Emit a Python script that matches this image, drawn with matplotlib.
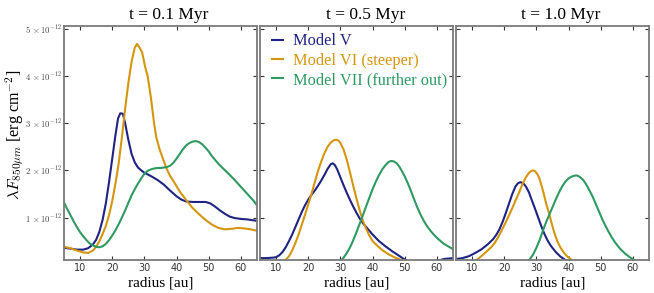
import matplotlib
matplotlib.use("Agg")
import matplotlib.pyplot as plt

plt.rcParams['mathtext.fontset'] = 'cm'

titles = ["t = 0.1 Myr", "t = 0.5 Myr", "t = 1.0 Myr"]
models = ["Model V", "Model VI (steeper)", "Model VII (further out)"]
colors = ["#1f2383", "#d4960f", "#2e9a62"]
yticks = [1, 2, 3, 4, 5]
ytick_labels = [r"$%d\,\times10^{-12}$" % v for v in yticks]
xticks = [10, 20, 30, 40, 50, 60]

# Panel 1 (t = 0.1 Myr), values in 1e-12 erg cm^-2
p1_v_r = [5, 7, 9, 11, 12.5, 14, 15, 16, 17, 18, 19, 20, 21, 21.8, 22.5, 23.3, 24, 25, 26, 27, 28, 29, 30, 32, 34, 36, 38, 40, 41.5, 43, 45, 47, 49, 50.5, 52, 53.5, 55, 56.5, 58, 60, 62, 65]
p1_v_f = [0.36, 0.34, 0.32, 0.32, 0.35, 0.43, 0.53, 0.7, 0.95, 1.3, 1.75, 2.25, 2.75, 3.1, 3.21, 3.2, 3.0, 2.65, 2.35, 2.17, 2.06, 2.0, 1.95, 1.88, 1.8, 1.7, 1.57, 1.45, 1.38, 1.34, 1.33, 1.33, 1.33, 1.3, 1.23, 1.15, 1.08, 1.02, 0.99, 0.97, 0.96, 0.93]
p1_vi_r = [5, 7, 9, 11, 12.5, 14, 15, 16, 17, 18, 19, 20, 21, 22, 23, 24, 25, 26, 27, 27.7, 28.5, 29.3, 30.2, 31, 32, 33, 33.7, 34.7, 36, 37, 38, 39.5, 41, 43, 45, 47, 49, 51, 53, 55, 57, 59, 61, 63, 65]
p1_vi_f = [0.38, 0.35, 0.3, 0.26, 0.25, 0.3, 0.38, 0.5, 0.65, 0.82, 1.05, 1.35, 1.72, 2.15, 2.7, 3.3, 3.85, 4.3, 4.6, 4.68, 4.6, 4.5, 4.2, 4.0, 3.55, 3.0, 2.7, 2.45, 2.2, 2.02, 1.88, 1.72, 1.55, 1.37, 1.2, 1.07, 0.95, 0.85, 0.78, 0.75, 0.76, 0.78, 0.77, 0.75, 0.72]
p1_vii_r = [5, 6, 7, 8, 9, 10, 11, 12, 13, 14, 15, 16, 17, 18, 19, 20, 21, 22, 23, 24, 25, 26, 27, 28, 29, 30, 31, 32, 33, 34, 35, 36, 37, 38, 39, 40, 41, 42, 43, 44, 45, 46, 47, 48, 49, 50, 51, 52, 53, 54, 56, 58, 60, 62, 64, 65]
p1_vii_f = [1.32, 1.18, 1.05, 0.92, 0.8, 0.69, 0.6, 0.52, 0.45, 0.41, 0.38, 0.37, 0.39, 0.44, 0.52, 0.62, 0.73, 0.86, 1.0, 1.15, 1.31, 1.47, 1.6, 1.72, 1.83, 1.93, 1.99, 2.02, 2.04, 2.05, 2.05, 2.06, 2.07, 2.1, 2.16, 2.25, 2.35, 2.45, 2.53, 2.58, 2.61, 2.62, 2.6, 2.55, 2.48, 2.4, 2.3, 2.22, 2.14, 2.07, 1.94, 1.8, 1.65, 1.5, 1.35, 1.26]

# Panel 2 (t = 0.5 Myr)
p2_v_r = [5, 7, 9, 10, 11, 12, 13, 14, 15, 16, 17, 18, 19, 20, 21, 22, 23, 24, 25, 26, 27, 27.6, 28.3, 29, 30, 31, 32, 33, 34, 35, 36, 37, 38, 40, 42, 44, 46, 48, 50, 52, 55, 58, 60, 62, 65]
p2_v_f = [0.14, 0.14, 0.15, 0.16, 0.2, 0.27, 0.37, 0.5, 0.64, 0.8, 0.96, 1.12, 1.26, 1.38, 1.48, 1.57, 1.67, 1.78, 1.9, 2.03, 2.13, 2.15, 2.11, 2.02, 1.85, 1.68, 1.52, 1.37, 1.23, 1.1, 0.98, 0.88, 0.8, 0.64, 0.5, 0.39, 0.29, 0.2, 0.11, 0.05, 0.02, 0.03, 0.07, 0.12, 0.14]
p2_vi_r = [5, 10, 12, 13, 14, 15, 16, 17, 18, 19, 20, 21, 22, 23, 24, 25, 26, 27, 28, 28.7, 29.4, 30, 31, 32, 33, 34, 35, 36, 37, 38, 39, 40, 41.5, 43, 45, 47, 49, 51, 55, 60, 65]
p2_vi_f = [0.0, 0.02, 0.06, 0.1, 0.18, 0.3, 0.46, 0.64, 0.85, 1.06, 1.28, 1.5, 1.74, 1.98, 2.18, 2.36, 2.5, 2.59, 2.64, 2.65, 2.63, 2.58, 2.44, 2.22, 1.95, 1.67, 1.4, 1.15, 0.93, 0.76, 0.62, 0.5, 0.4, 0.31, 0.22, 0.15, 0.1, 0.06, 0.04, 0.05, 0.05]
p2_vii_r = [5, 28, 29, 30, 31, 32, 33, 34, 35, 36, 37, 38, 39, 40, 41, 42, 43, 44, 45, 45.8, 46.6, 47.5, 48.3, 49, 50, 51, 52, 53, 54, 55, 56, 57, 58, 59, 60, 62, 64, 65]
p2_vii_f = [0.0, 0.02, 0.04, 0.08, 0.15, 0.25, 0.37, 0.52, 0.69, 0.87, 1.05, 1.24, 1.42, 1.6, 1.76, 1.9, 2.02, 2.11, 2.18, 2.2, 2.19, 2.15, 2.08, 2.0, 1.87, 1.72, 1.55, 1.37, 1.2, 1.05, 0.92, 0.81, 0.72, 0.64, 0.57, 0.45, 0.37, 0.33]

# Panel 3 (t = 1.0 Myr)
p3_v_r = [5, 7, 9, 11, 13, 15, 16.5, 17.5, 18.5, 19.5, 20.5, 21.5, 22.5, 23.5, 24.3, 25.1, 26, 26.8, 27.7, 28.5, 29.5, 30.5, 31.5, 32.5, 33.5, 34.5, 36, 37.5, 39, 41, 44, 50, 65]
p3_v_f = [0.12, 0.14, 0.18, 0.25, 0.33, 0.44, 0.54, 0.63, 0.75, 0.91, 1.1, 1.3, 1.5, 1.66, 1.73, 1.75, 1.72, 1.65, 1.53, 1.38, 1.2, 1.01, 0.82, 0.65, 0.51, 0.4, 0.27, 0.17, 0.1, 0.06, 0.03, 0.02, 0.02]
p3_vi_r = [5, 9, 11, 12, 13, 14, 15, 16.2, 17, 18, 19, 20.4, 21.5, 22.5, 23.5, 24.6, 25.6, 26.7, 27.7, 28.5, 29, 29.6, 30.2, 30.8, 31.5, 32.3, 33, 33.9, 34.8, 35.6, 36.5, 37.5, 38.5, 39.5, 41, 43, 46, 65]
p3_vi_f = [0.0, 0.03, 0.08, 0.13, 0.19, 0.25, 0.31, 0.39, 0.46, 0.57, 0.7, 0.89, 1.05, 1.2, 1.36, 1.53, 1.7, 1.85, 1.95, 1.99, 2.0, 1.98, 1.93, 1.85, 1.7, 1.5, 1.3, 1.1, 0.86, 0.67, 0.5, 0.36, 0.26, 0.18, 0.1, 0.05, 0.03, 0.02]
p3_vii_r = [5, 26, 27, 28, 29, 30, 31, 32, 33, 34, 35, 36, 37, 38, 39, 40, 41, 42, 42.7, 43.5, 44.5, 45.5, 46.3, 47.5, 48.5, 49.5, 50.5, 51.5, 52.5, 53.5, 54.6, 56, 57.5, 59, 60.5, 62, 65]
p3_vii_f = [0.0, 0.03, 0.06, 0.12, 0.22, 0.36, 0.52, 0.72, 0.9, 1.06, 1.22, 1.38, 1.53, 1.66, 1.76, 1.83, 1.87, 1.89, 1.89, 1.86, 1.8, 1.7, 1.6, 1.44, 1.28, 1.12, 0.96, 0.82, 0.69, 0.57, 0.46, 0.34, 0.24, 0.16, 0.1, 0.06, 0.03]

panels = [
    [(p1_v_r, p1_v_f), (p1_vi_r, p1_vi_f), (p1_vii_r, p1_vii_f)],
    [(p2_v_r, p2_v_f), (p2_vi_r, p2_vi_f), (p2_vii_r, p2_vii_f)],
    [(p3_v_r, p3_v_f), (p3_vi_r, p3_vi_f), (p3_vii_r, p3_vii_f)],
]

fig = plt.figure(figsize=(6.54, 2.93), dpi=100)
lefts = [64, 260, 456]
width = 193
bottom_px, top_px = 260, 26
W, H = 654, 293
serif = ['Liberation Serif', 'DejaVu Serif']
spine_col = '#7a7a7a'

axes = []
for i in range(3):
    ax = fig.add_axes([lefts[i] / W, 1 - bottom_px / H, width / W, (bottom_px - top_px) / H])
    axes.append(ax)
    for (r, f), c, lab in zip(panels[i], colors, models):
        ax.plot(r, f, color=c, lw=1.5, label=lab, solid_joinstyle='round')
    ax.set_xlim(5, 65)
    ax.set_ylim(0.1, 5.06)
    ax.set_xticks(xticks)
    ax.set_yticks(yticks)
    ax.tick_params(direction='in', top=True, right=True, length=3, width=0.8,
                   color='#333333', labelsize=7, labelcolor='#333333', pad=2.5)
    for s in ax.spines.values():
        s.set_color(spine_col)
        s.set_linewidth(1.3)
    if i == 0:
        ax.set_yticklabels(ytick_labels, fontsize=6.3, color='#444444')
        ax.tick_params(axis='y', pad=1.5)
        ax.set_ylabel(r"$\lambda F_{850\mu m}$ [erg cm$^{-2}$]", family=serif, fontsize=11.6)
        ax.yaxis.set_label_coords(-0.19, 0.535)
    else:
        ax.set_yticklabels([])
    ax.set_title(titles[i], family=serif, fontsize=12.5, pad=5, x=0.545)
    ax.set_xlabel("radius [au]", family=serif, fontsize=11, labelpad=2)

leg = axes[1].legend(loc='upper left', bbox_to_anchor=(0.022, 1.0), frameon=False,
                     handlelength=0.7, handletextpad=0.6, borderaxespad=0.05,
                     labelspacing=0.2, prop={'family': serif, 'size': 11.8})
for txt, c in zip(leg.get_texts(), colors):
    txt.set_color(c)

fig.savefig("out.png", dpi=100)
